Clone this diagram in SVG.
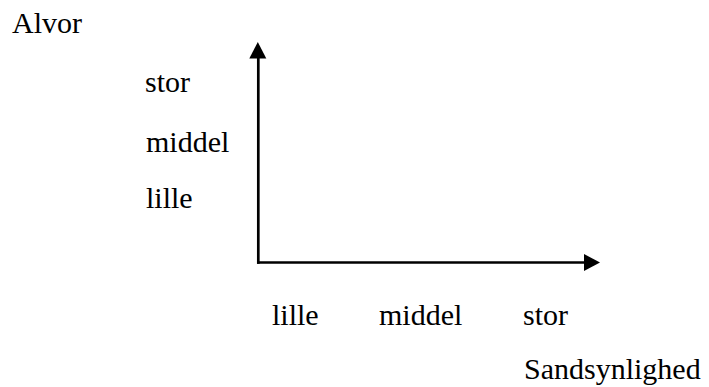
<svg xmlns="http://www.w3.org/2000/svg" width="709" height="387" viewBox="0 0 709 387">
<style>
text{font-family:"Liberation Serif","Times New Roman",serif;font-size:30px;fill:#000}
.axis{stroke:#000;stroke-width:2.7;fill:none}
.head{fill:#000}
</style>
<rect width="709" height="387" fill="#fff"/>
<g id="connectors">
<path class="axis" d="M258.3,263.8 V57"/>
<path class="axis" d="M257,262.5 H585"/>
<polygon class="head" points="257.8,42 266.3,58.5 249.3,58.5"/>
<polygon class="head" points="600,262.5 584,254 584,271"/>
</g>
<g id="y-title"><text x="12" y="33">Alvor</text></g>
<g id="y-stor"><text x="145" y="92">stor</text></g>
<g id="y-middel"><text x="146" y="152">middel</text></g>
<g id="y-lille"><text x="146" y="208">lille</text></g>
<g id="x-lille"><text x="272" y="325">lille</text></g>
<g id="x-middel"><text x="379" y="325">middel</text></g>
<g id="x-stor"><text x="523" y="325">stor</text></g>
<g id="x-title"><text x="524" y="379">Sandsynlighed</text></g>
</svg>
